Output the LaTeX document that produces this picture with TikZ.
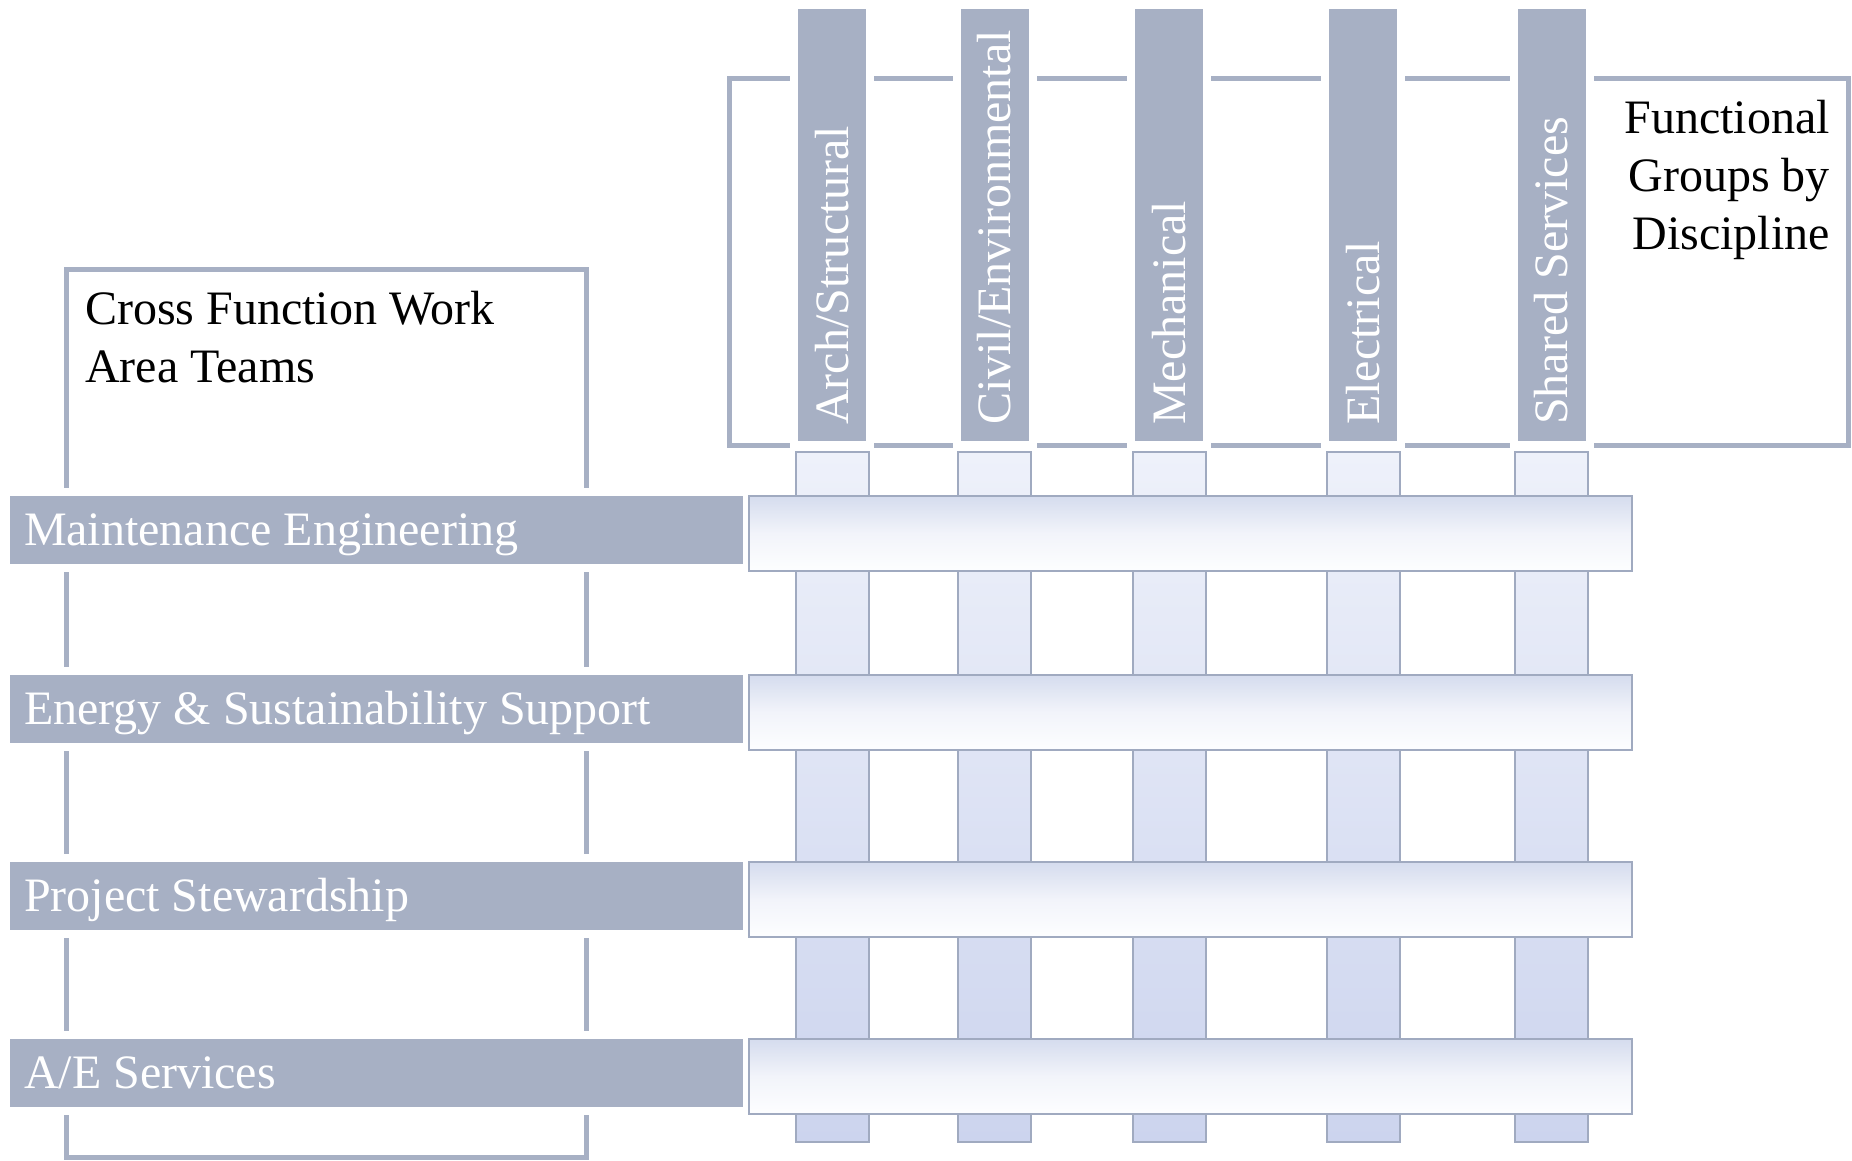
\documentclass[tikz,border=0pt]{standalone}
\usepackage{fontspec}
\setmainfont{Liberation Serif}
\usetikzlibrary{positioning,calc}
\definecolor{grpdark}{RGB}{167,176,196}
\definecolor{grpline}{RGB}{160,170,192}
\definecolor{coltop}{RGB}{238,241,250}
\definecolor{colbot}{RGB}{204,212,238}
\definecolor{bartop}{RGB}{213,220,238}
\definecolor{barmid}{RGB}{242,244,250}
\definecolor{barbot}{RGB}{253,254,255}
\tikzstyle{gbox}=[rectangle, fill=grpdark, preaction={draw=white, line width=16pt},
                  inner sep=0pt, outer sep=0pt]
\tikzstyle{hbox}=[gbox, minimum width=68pt, minimum height=432pt]
\tikzstyle{rbox}=[gbox, minimum width=733pt, minimum height=68pt, text width=705pt,
                  inner xsep=14pt, text height=32pt, text depth=0pt, text=white,
                  align=flush left]
\tikzstyle{vtext}=[rotate=90, anchor=west, inner sep=0pt, text=white,
                   text height=32pt, text depth=0pt]
\tikzstyle{cbox}=[rectangle, draw=grpline, line width=2pt, top color=coltop,
                  bottom color=colbot, minimum width=73pt, minimum height=690pt,
                  inner sep=0pt, outer sep=0pt]
\tikzstyle{lbar}=[rectangle, draw=grpline, line width=2pt, top color=bartop,
                  bottom color=barbot, middle color=barmid, minimum width=883pt,
                  minimum height=75pt, inner sep=0pt, outer sep=0pt]
\tikzstyle{frm}=[rectangle, draw=grpdark, line width=5pt, inner sep=0pt, outer sep=0pt]

\begin{document}
\begin{tikzpicture}[x=1pt, y=1pt, node distance=0pt,
  every node/.style={font=\fontsize{48}{58}\selectfont}]
\useasboundingbox (0,0) rectangle (1852,1161);

% frames
\node (CFTBOX) [frm, minimum width=520pt, minimum height=888pt] at (326,447) {};
\node (FGDBOX) [frm, minimum width=1119pt, minimum height=367pt] at (1288.5,898.5) {};

% discipline headers
\node (ARCH) [hbox] at (832,936) {};
\node (CIVIL) [hbox, right=94.5pt of ARCH] {};
\node (MECH) [hbox, right=106.5pt of CIVIL] {};
\node (ELEC) [hbox, right=126pt of MECH] {};
\node (SHRD) [hbox, right=120.5pt of ELEC] {};
\node (ARCHT) [vtext] at ($(ARCH.south)+(0,16)$) {Arch/Structural};
\node (CIVILT) [vtext] at ($(CIVIL.south)+(0,16)$) {Civil/Environmental};
\node (MECHT) [vtext] at ($(MECH.south)+(0,16)$) {Mechanical};
\node (ELECT) [vtext] at ($(ELEC.south)+(0,16)$) {Electrical};
\node (SHRDT) [vtext] at ($(SHRD.south)+(0,16)$) {Shared Services};

% columns
\node (ARCHC) [cbox, below=11pt of ARCH] {};
\node (CIVILC) [cbox, below=11pt of CIVIL] {};
\node (MECHC) [cbox, below=11pt of MECH] {};
\node (ELECC) [cbox, below=11pt of ELEC] {};
\node (SHRDC) [cbox, below=11pt of SHRD] {};

% work area teams
\node (MNTENG) [rbox] at (376.5,631) {Maintenance Engineering};
\node (ENGSUS) [rbox, below=111pt of MNTENG] {Energy \& Sustainability Support};
\node (PRJSTW) [rbox, below=119pt of ENGSUS] {Project Stewardship};
\node (AESRV) [rbox, below=109pt of PRJSTW] {A/E Services};
\node (MNTBAR) [lbar, right=6pt of MNTENG.north east, anchor=north west] {};
\node (ENGBAR) [lbar, right=6pt of ENGSUS.north east, anchor=north west] {};
\node (PRJBAR) [lbar, right=6pt of PRJSTW.north east, anchor=north west] {};
\node (AESBAR) [lbar, right=6pt of AESRV.north east, anchor=north west] {};

% frame titles
\node (CFTTXT) [align=left, inner sep=0pt, anchor=north west]
  at ($(CFTBOX.north west)+(19,-21)$) {Cross Function Work\\Area Teams};
\node (FGDTXT) [align=right, inner sep=0pt, anchor=north east]
  at ($(FGDBOX.north east)+(-18,-21)$) {Functional\\Groups by\\Discipline};

\end{tikzpicture}
\end{document}
